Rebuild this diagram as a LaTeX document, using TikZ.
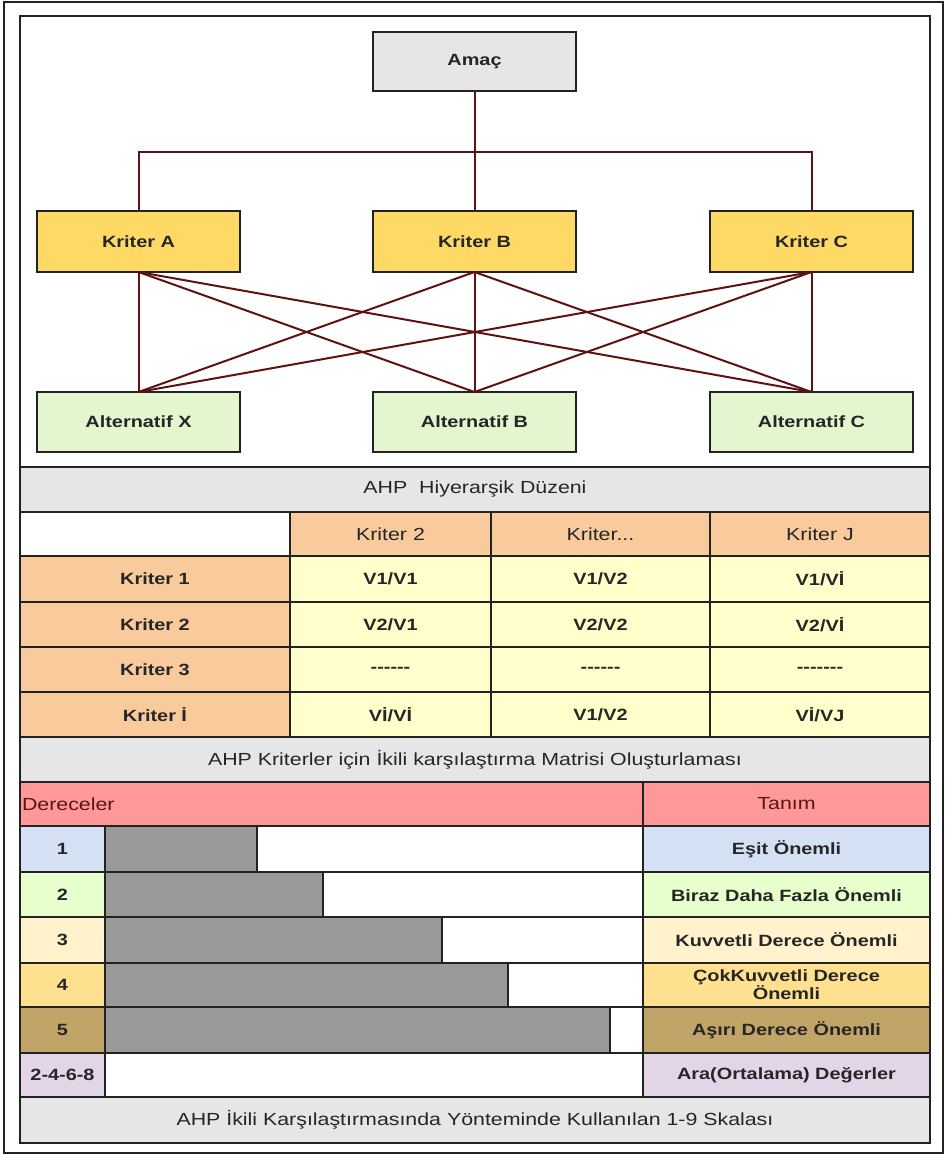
\documentclass[tikz,border=0pt]{standalone}
\usepackage{fontspec}
\setmainfont{Liberation Sans}[FakeStretch=1.22]
\definecolor{graybg}{HTML}{E6E6E6}
\definecolor{kritfill}{HTML}{FFD966}
\definecolor{altfill}{HTML}{E3F6D0}
\definecolor{peach}{HTML}{F9CB9C}
\definecolor{lyellow}{HTML}{FFFFCC}
\definecolor{pinkhdr}{HTML}{FF9999}
\definecolor{lblue}{HTML}{D4E1F5}
\definecolor{lgreen}{HTML}{E6FFCC}
\definecolor{cream}{HTML}{FFF2CC}
\definecolor{gold}{HTML}{FFE08F}
\definecolor{khaki}{HTML}{C0A468}
\definecolor{lavender}{HTML}{E1D5E7}
\definecolor{bargray}{HTML}{999999}
\definecolor{maroon}{HTML}{601212}
\definecolor{txt}{HTML}{262626}
\definecolor{darkred}{HTML}{5A1414}
\definecolor{edge}{HTML}{222222}
\begin{document}
\begin{tikzpicture}[x=1pt,y=-1pt,
  every node/.style={inner sep=0pt,outer sep=0pt,text=txt,font=\fontsize{16.3}{18}\selectfont\bfseries},
  box/.style={draw=edge,line width=2.6pt,rectangle},
  cell/.style={draw=edge,line width=2pt,rectangle},
  captext/.style={font=\fontsize{17.5}{20}\selectfont},
  link/.style={draw=maroon,line width=2pt}]
\newcommand\cellbox[7]{\node[#6,minimum width={#4-#2},minimum height={#5-#3}] (#1) at ({(#2+#4)/2},{(#3+#5)/2}) {#7};}
\newcommand\dashes[1]{\foreach \i in {1,...,#1}{-}}
\useasboundingbox (0,0) rectangle (946,1155);
\fill[white] (0,0) rectangle (946,1155);
\draw[line width=1.2pt,draw=edge] (4,2) rectangle (943,1153);
% inner frame background
\cellbox{frame}{20}{16}{930}{1143}{draw=edge,line width=2.6pt,fill=white}{}
% hierarchy
\cellbox{amac}{373}{32}{576}{91}{box,fill=graybg}{Amaç}
\cellbox{kA}{37}{211}{240}{272}{box,fill=kritfill}{Kriter A}
\cellbox{kB}{373}{211}{576}{272}{box,fill=kritfill}{Kriter B}
\cellbox{kC}{710}{211}{913}{272}{box,fill=kritfill}{Kriter C}
\cellbox{aX}{37}{392}{240}{452}{box,fill=altfill}{Alternatif X}
\cellbox{aB}{373}{392}{576}{452}{box,fill=altfill}{Alternatif B}
\cellbox{aC}{710}{392}{913}{452}{box,fill=altfill}{Alternatif C}
\coordinate (j) at (474.5,152);
\draw[link] (amac.south) -- (j);
\draw[link] (j) -| (kA.north);
\draw[link] (j) -| (kC.north);
\draw[link] (j) -- (kB.north);
\foreach \k in {kA,kB,kC}{\foreach \a in {aX,aB,aC}{\draw[link] (\k.south) -- (\a.north);}}
% caption 1
\cellbox{cap1}{20}{467}{930}{512}{cell,fill=graybg,captext}{AHP\ \ Hiyerarşik Düzeni}
% matrix
\cellbox{h0}{20}{512}{290}{556}{cell,fill=white}{}
\cellbox{h1}{290}{512}{491}{556}{cell,fill=peach,captext}{Kriter 2}
\cellbox{h2}{491}{512}{710}{556}{cell,fill=peach,captext}{Kriter...}
\cellbox{h3}{710}{512}{930}{556}{cell,fill=peach,captext}{Kriter J}
\cellbox{r1}{20}{556}{290}{602}{cell,fill=peach}{Kriter 1}
\cellbox{r1a}{290}{556}{491}{602}{cell,fill=lyellow}{V1/V1}
\cellbox{r1b}{491}{556}{710}{602}{cell,fill=lyellow}{V1/V2}
\cellbox{r1c}{710}{556}{930}{602}{cell,fill=lyellow}{V1/Vİ}
\cellbox{r2}{20}{602}{290}{647}{cell,fill=peach}{Kriter 2}
\cellbox{r2a}{290}{602}{491}{647}{cell,fill=lyellow}{V2/V1}
\cellbox{r2b}{491}{602}{710}{647}{cell,fill=lyellow}{V2/V2}
\cellbox{r2c}{710}{602}{930}{647}{cell,fill=lyellow}{V2/Vİ}
\cellbox{r3}{20}{647}{290}{692}{cell,fill=peach}{Kriter 3}
\cellbox{r3a}{290}{647}{491}{692}{cell,fill=lyellow}{-{}-{}-{}-{}-{}-}
\cellbox{r3b}{491}{647}{710}{692}{cell,fill=lyellow}{-{}-{}-{}-{}-{}-}
\cellbox{r3c}{710}{647}{930}{692}{cell,fill=lyellow}{-{}-{}-{}-{}-{}-{}-}
\cellbox{r4}{20}{692}{290}{737}{cell,fill=peach}{Kriter İ}
\cellbox{r4a}{290}{692}{491}{737}{cell,fill=lyellow}{Vİ/Vİ}
\cellbox{r4b}{491}{692}{710}{737}{cell,fill=lyellow}{V1/V2}
\cellbox{r4c}{710}{692}{930}{737}{cell,fill=lyellow}{Vİ/VJ}
\cellbox{cap2}{20}{737}{930}{782}{cell,fill=graybg,captext}{AHP Kriterler için İkili karşılaştırma Matrisi Oluşturlaması}
% scale
\cellbox{dh}{20}{782}{643}{826}{cell,fill=pinkhdr}{}
\node[captext,text=darkred,anchor=west] (dtxt) at (22,804) {Dereceler};
\cellbox{th}{643}{782}{930}{826}{cell,fill=pinkhdr,captext,text=darkred}{Tanım}
\cellbox{n1}{20}{826}{105}{872}{cell,fill=lblue}{1}
\cellbox{n2}{20}{872}{105}{917}{cell,fill=lgreen}{2}
\cellbox{n3}{20}{917}{105}{963}{cell,fill=cream}{3}
\cellbox{n4}{20}{963}{105}{1007}{cell,fill=gold}{4}
\cellbox{n5}{20}{1007}{105}{1053}{cell,fill=khaki}{5}
\cellbox{n6}{20}{1053}{105}{1097}{cell,fill=lavender}{2-4-6-8}
\cellbox{w1}{105}{826}{643}{872}{cell,fill=white}{}
\cellbox{w2}{105}{872}{643}{917}{cell,fill=white}{}
\cellbox{w3}{105}{917}{643}{963}{cell,fill=white}{}
\cellbox{w4}{105}{963}{643}{1007}{cell,fill=white}{}
\cellbox{w5}{105}{1007}{643}{1053}{cell,fill=white}{}
\cellbox{w6}{105}{1053}{643}{1097}{cell,fill=white}{}
\cellbox{b1}{105}{826}{257}{872}{cell,fill=bargray}{}
\cellbox{b2}{105}{872}{323}{917}{cell,fill=bargray}{}
\cellbox{b3}{105}{917}{442}{963}{cell,fill=bargray}{}
\cellbox{b4}{105}{963}{508}{1007}{cell,fill=bargray}{}
\cellbox{b5}{105}{1007}{610}{1053}{cell,fill=bargray}{}
\cellbox{t1}{643}{826}{930}{872}{cell,fill=lblue}{Eşit Önemli}
\cellbox{t2}{643}{872}{930}{917}{cell,fill=lgreen}{Biraz Daha Fazla Önemli}
\cellbox{t3}{643}{917}{930}{963}{cell,fill=cream}{Kuvvetli Derece Önemli}
\cellbox{t4}{643}{963}{930}{1007}{cell,fill=gold,align=center,font=\fontsize{16.3}{16}\selectfont\bfseries}{ÇokKuvvetli Derece\\Önemli}
\cellbox{t5}{643}{1007}{930}{1053}{cell,fill=khaki}{Aşırı Derece Önemli}
\cellbox{t6}{643}{1053}{930}{1097}{cell,fill=lavender}{Ara(Ortalama) Değerler}
\cellbox{cap3}{20}{1097}{930}{1143}{cell,fill=graybg,captext}{AHP İkili Karşılaştırmasında Yönteminde Kullanılan 1-9 Skalası}
\end{tikzpicture}
\end{document}
